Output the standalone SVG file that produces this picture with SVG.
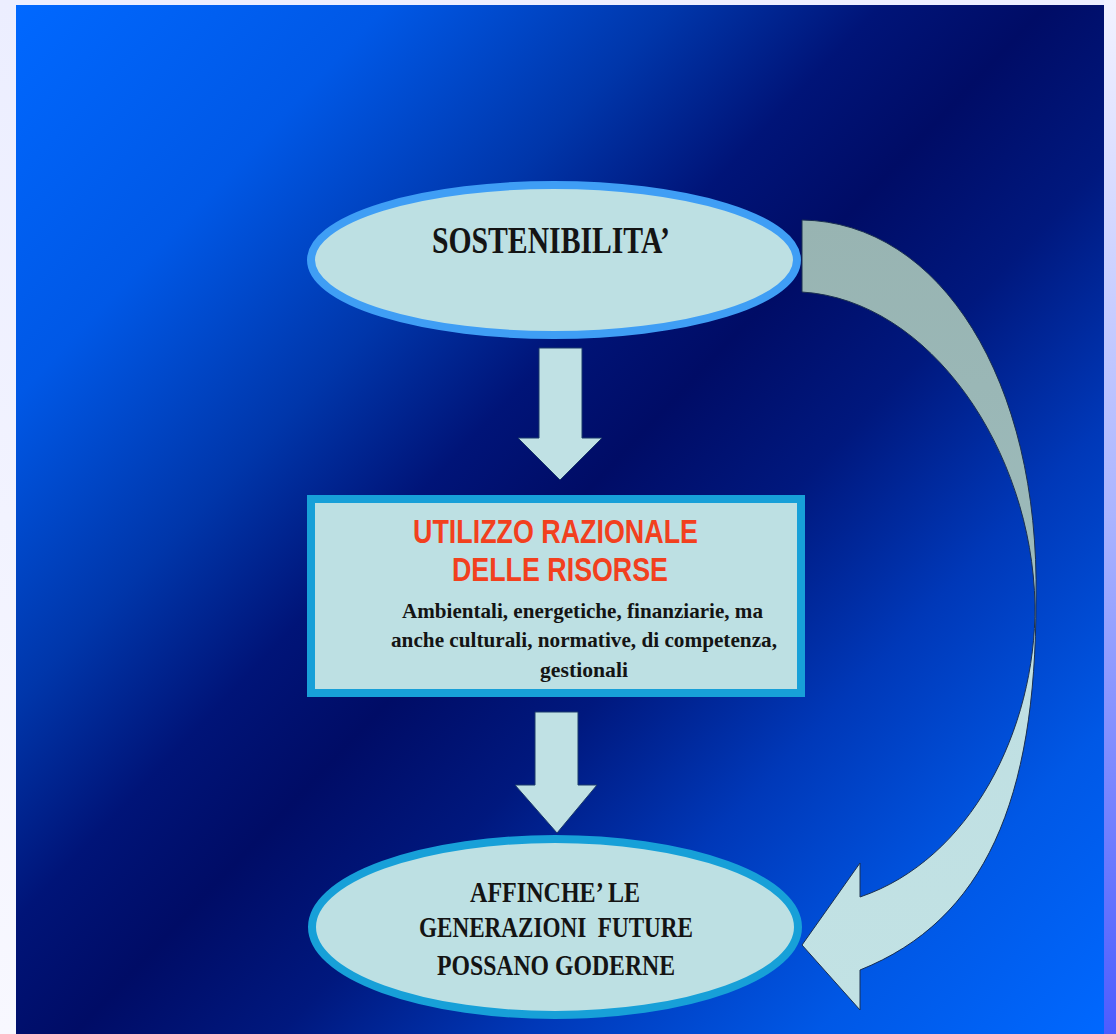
<svg xmlns="http://www.w3.org/2000/svg" width="1116" height="1034" viewBox="0 0 1116 1034">
  <defs>
    <linearGradient id="page" x1="0" y1="0" x2="0" y2="1">
      <stop offset="0" stop-color="#eceeff"/>
      <stop offset="1" stop-color="#f8f8ff"/>
    </linearGradient>
    <linearGradient id="rightStrip" x1="0" y1="0" x2="0" y2="1">
      <stop offset="0" stop-color="#f2f2ff"/>
      <stop offset="0.5" stop-color="#aab4ff"/>
      <stop offset="1" stop-color="#4c5cff"/>
    </linearGradient>
    <linearGradient id="bg" gradientUnits="userSpaceOnUse" x1="16" y1="5" x2="1104" y2="1034">
      <stop offset="0" stop-color="#0068ff"/>
      <stop offset="0.18" stop-color="#0058e6"/>
      <stop offset="0.32" stop-color="#0036aa"/>
      <stop offset="0.42" stop-color="#001478"/>
      <stop offset="0.5" stop-color="#000c66"/>
      <stop offset="0.6" stop-color="#00187e"/>
      <stop offset="0.72" stop-color="#0038b8"/>
      <stop offset="0.86" stop-color="#0058e6"/>
      <stop offset="1" stop-color="#0068ff"/>
    </linearGradient>
    <linearGradient id="curveFill" gradientUnits="userSpaceOnUse" x1="0" y1="220" x2="0" y2="1010">
      <stop offset="0" stop-color="#98b4b2"/>
      <stop offset="0.42" stop-color="#9cbaba"/>
      <stop offset="0.55" stop-color="#bfdfe2"/>
      <stop offset="1" stop-color="#c2e2e4"/>
    </linearGradient>
    <style>
      .fill { fill: #bde0e3; }
      .arrow { fill: #c0e1e4; stroke: #1b3a6a; stroke-width: 1; stroke-linejoin: miter; }
      .serif { font-family: "Liberation Serif", "Times New Roman", serif; font-weight: bold; fill: #141414; text-anchor: middle; }
      .sans { font-family: "Liberation Sans", Arial, sans-serif; font-weight: bold; fill: #f2401e; text-anchor: middle; }
    </style>
  </defs>

  <!-- background -->
  <rect x="0" y="0" width="1116" height="1034" fill="url(#page)"/>
  <rect x="1104" y="0" width="12" height="1034" fill="url(#rightStrip)"/>
  <rect x="16" y="5" width="1088" height="1029" fill="url(#bg)"/>

  <!-- connectors -->
  <g id="connectors">
    <path id="curved-arrow" fill="url(#curveFill)" stroke="#1b3050" stroke-width="1"
      d="M802,220 C940,222 1040,380 1036,600 C1036,800 985,920 860,970 L860,1010 L802,945 L860,863 L860,897 C970,860 1036,730 1035,605 C1032,450 930,300 802,292 Z"/>
    <polygon id="arrow-1" class="arrow" points="539,348 582,348 582,438 602,438 560,480 518,438 539,438"/>
    <polygon id="arrow-2" class="arrow" points="535,712 578,712 578,785 597,785 557,833 515,785 535,785"/>
  </g>

  <!-- node: sostenibilita -->
  <g id="node-sostenibilita">
    <ellipse cx="554" cy="260" rx="243" ry="75" class="fill" stroke="#3f9ef5" stroke-width="8"/>
    <text class="serif" x="551" y="253" font-size="38" textLength="238" lengthAdjust="spacingAndGlyphs">SOSTENIBILITA’</text>
  </g>

  <!-- node: utilizzo razionale -->
  <g id="node-utilizzo">
    <rect x="311" y="499" width="490" height="194" class="fill" stroke="#17a0d8" stroke-width="8"/>
    <text class="sans" x="555.5" y="543" font-size="33" textLength="285" lengthAdjust="spacingAndGlyphs">UTILIZZO RAZIONALE</text>
    <text class="sans" x="560" y="581" font-size="33" textLength="216" lengthAdjust="spacingAndGlyphs">DELLE RISORSE</text>
    <text class="serif" x="582.5" y="618" font-size="22" textLength="361" lengthAdjust="spacingAndGlyphs">Ambientali, energetiche, finanziarie, ma</text>
    <text class="serif" x="584" y="647" font-size="22" textLength="386" lengthAdjust="spacingAndGlyphs">anche culturali, normative, di competenza,</text>
    <text class="serif" x="584" y="677" font-size="22" textLength="88" lengthAdjust="spacingAndGlyphs">gestionali</text>
  </g>

  <!-- node: affinche -->
  <g id="node-affinche">
    <ellipse cx="555" cy="927" rx="243" ry="88" class="fill" stroke="#17a0d8" stroke-width="8"/>
    <text class="serif" x="555" y="902" font-size="30" textLength="170" lengthAdjust="spacingAndGlyphs">AFFINCHE’ LE</text>
    <text class="serif" x="556" y="937" font-size="30" textLength="274" lengthAdjust="spacingAndGlyphs" xml:space="preserve">GENERAZIONI  FUTURE</text>
    <text class="serif" x="556" y="975" font-size="30" textLength="238" lengthAdjust="spacingAndGlyphs">POSSANO GODERNE</text>
  </g>
</svg>
